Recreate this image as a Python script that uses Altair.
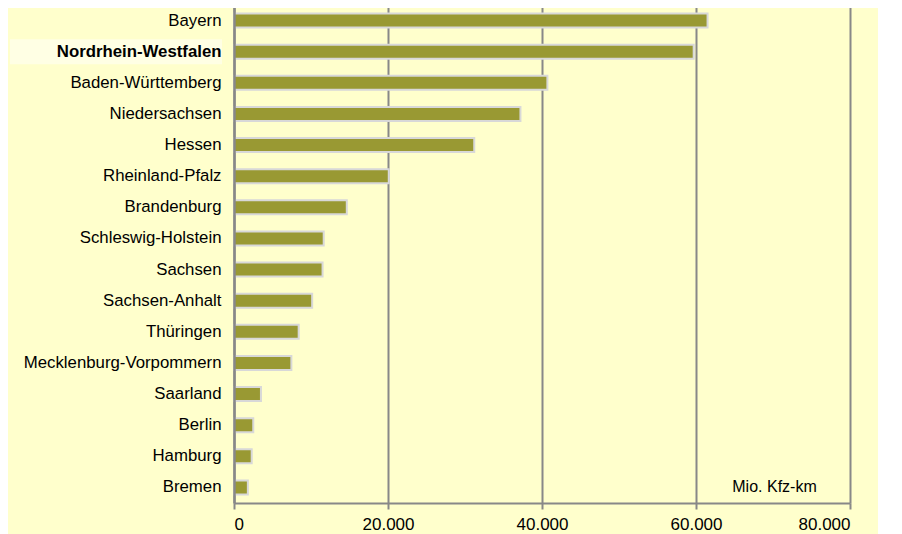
import altair as alt
import pandas as pd

states = ["Bayern", "Nordrhein-Westfalen", "Baden-Württemberg", "Niedersachsen",
          "Hessen", "Rheinland-Pfalz", "Brandenburg", "Schleswig-Holstein",
          "Sachsen", "Sachsen-Anhalt", "Thüringen", "Mecklenburg-Vorpommern",
          "Saarland", "Berlin", "Hamburg", "Bremen"]
values = [61500, 59700, 40700, 37200, 31200, 20100, 14650, 11650,
          11500, 10150, 8400, 7450, 3500, 2500, 2300, 1800]
x_ticks = [0, 20000, 40000, 60000, 80000]
unit_label = "Mio. Kfz-km"
highlight = "Nordrhein-Westfalen"

df = pd.DataFrame({"state": states, "value": values})
hl = pd.DataFrame({"state": [highlight]})

FONT = "Liberation Sans"
GRAY = "#888888"

y_scale = alt.Scale(domain=states, paddingInner=0.55, paddingOuter=0.275)

y_axis = alt.Axis(
    title=None, domainColor=GRAY, domainWidth=2.5, ticks=False, grid=False,
    labelFont=FONT, labelFontSize=16.8, labelColor="#000000", labelPadding=13,
    labelLimit=400, zindex=1,
    labelFontWeight={"condition": {"test": f"datum.value === '{highlight}'", "value": "bold"},
                     "value": "normal"},
)

x_axis = alt.Axis(
    values=x_ticks,
    labelExpr="datum.value == 0 ? '0' : format(datum.value / 1000, 'd') + '.000'",
    labelFont=FONT, labelFontSize=17, labelColor="#000000", labelPadding=7,
    domainColor=GRAY, domainWidth=2, tickColor=GRAY, tickWidth=2, tickSize=6,
    grid=True, gridColor=GRAY, gridWidth=2,
    title=unit_label, titleFont=FONT, titleFontSize=16, titleFontWeight="normal",
    titleColor="#000000", titleX=540, titleY=-17, titleAlign="center",
    titleBaseline="middle", titleAnchor="start",
)

highlight_band = alt.Chart(hl).mark_rule(color="#FFFFE4", strokeWidth=25, strokeCap="butt").encode(
    y=alt.Y("state:N", scale=y_scale, axis=y_axis),
    x=alt.value(-224),
    x2=alt.value(-12),
)

bars = alt.Chart(df).mark_bar(color="#999933", stroke="#D8D8D8", strokeWidth=2).encode(
    y=alt.Y("state:N", scale=y_scale, axis=y_axis, sort=states),
    x=alt.X("value:Q", scale=alt.Scale(domain=[0, 80000], nice=False), axis=x_axis),
)

chart = alt.layer(highlight_band, bars).properties(
    width=616, height=498,
    autosize=alt.AutoSizeParams(type="none"),
    padding={"left": 226, "top": -3, "right": 28, "bottom": 31},
    background="#FFFFCC",
).configure_view(stroke=None)

chart.save("out.html", embed_options={"renderer": "svg", "actions": False})
